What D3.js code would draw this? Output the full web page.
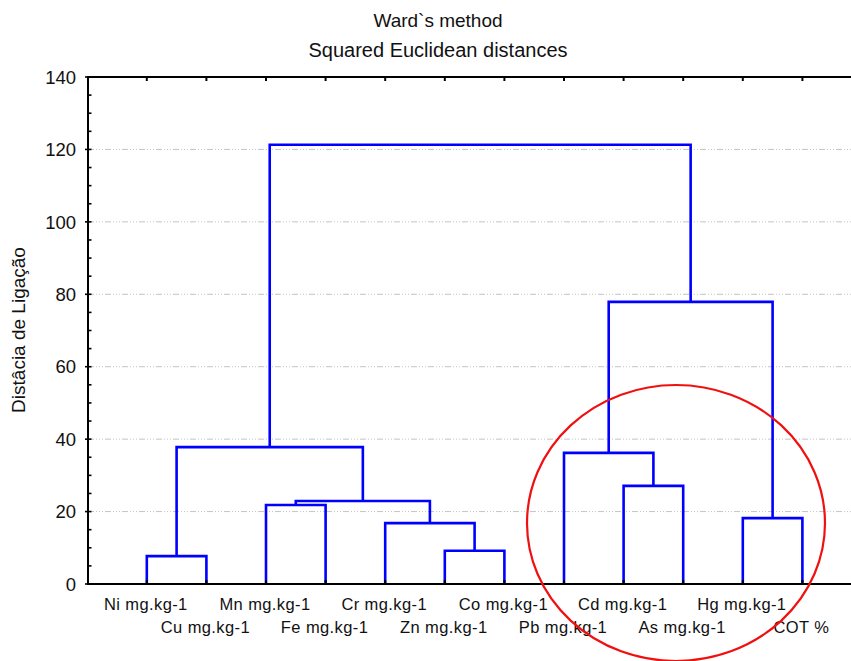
<!DOCTYPE html>
<html>
<head>
<meta charset="utf-8">
<script src="https://cdn.jsdelivr.net/npm/d3@7"></script>
<style>
  html, body { margin: 0; padding: 0; background: #fff; }
  svg { display: block; }
  text { font-family: "Liberation Sans", Arial, sans-serif; fill: #111; }
</style>
</head>
<body>
<svg id="chart" width="851" height="661"></svg>
<script>
// Variables in the order they are drawn along the horizontal axis
const leafLabels = [
  "Ni mg.kg-1", "Cu mg.kg-1", "Mn mg.kg-1", "Fe mg.kg-1",
  "Cr mg.kg-1", "Zn mg.kg-1", "Co mg.kg-1", "Pb mg.kg-1",
  "Cd mg.kg-1", "As mg.kg-1", "Hg mg.kg-1", "COT %"
];

// Agglomeration steps: [first member, second member, linkage distance].
// Indices below 12 are variables; index 12 + k is the cluster formed at step k.
const linkageSteps = [
  [0, 1, 7.7],
  [5, 6, 9.2],
  [4, 13, 16.8],
  [10, 11, 18.2],
  [2, 3, 21.8],
  [16, 14, 22.9],
  [8, 9, 27.1],
  [7, 18, 36.2],
  [12, 17, 37.8],
  [19, 15, 77.9],
  [20, 21, 121.3]
];

const yTicks = [0, 20, 40, 60, 80, 100, 120, 140];
const yMinorTicks = d3.range(0, 141, 5);
const titleLines = ["Ward`s method", "Squared Euclidean distances"];
const yAxisTitle = "Distâcia de Ligação";

const svg = d3.select("#chart");
const plotLeft = 88, plotTop = 77, plotBottom = 584, plotRight = 851;

const x = d3.scalePoint()
  .domain(leafLabels)
  .range([plotLeft - 0.8, plotLeft - 0.8 + 13 * 59.6])
  .padding(1);

const y = d3.scaleLinear().domain([0, 140]).range([plotBottom, plotTop]);

// Build the tree from the agglomeration steps
const nodes = leafLabels.map(name => ({ name, height: 0 }));
linkageSteps.forEach(([a, b, h]) => {
  nodes.push({ name: null, height: h, children: [nodes[a], nodes[b]] });
});
const root = d3.hierarchy(nodes[nodes.length - 1]);
root.eachAfter(n => {
  if (!n.children) n.px = x(n.data.name);
  else n.px = d3.mean(n.children, c => c.px);
  n.py = y(n.data.height);
});

// Horizontal grid lines
svg.append("g")
  .selectAll("line")
  .data(yTicks.filter(t => t > 0 && t < 140))
  .join("line")
  .attr("x1", plotLeft).attr("x2", plotRight)
  .attr("y1", d => y(d)).attr("y2", d => y(d))
  .attr("stroke", "#c4c4c4")
  .attr("stroke-width", 1)
  .attr("stroke-dasharray", "6,2,1,2,1,2,1,2");

// Dendrogram links (elbow connectors)
const links = root.descendants().filter(n => n.children);
svg.append("g")
  .selectAll("path")
  .data(links)
  .join("path")
  .attr("fill", "none")
  .attr("stroke", "#0000ff")
  .attr("stroke-width", 2.6)
  .attr("stroke-linejoin", "miter")
  .attr("d", n => {
    const [a, b] = n.children;
    return `M${a.px},${a.py}V${n.py}H${b.px}V${b.py}`;
  });

// Frame: left axis, top and bottom lines
const frame = svg.append("g").attr("stroke", "#000");
frame.append("line").attr("x1", plotLeft).attr("x2", plotLeft).attr("y1", plotTop - 1).attr("y2", plotBottom + 1).attr("stroke-width", 2);
frame.append("line").attr("x1", plotLeft).attr("x2", plotRight).attr("y1", plotTop).attr("y2", plotTop).attr("stroke-width", 2);
frame.append("line").attr("x1", plotLeft).attr("x2", plotRight).attr("y1", plotBottom).attr("y2", plotBottom).attr("stroke-width", 2);

// Minor ticks on the left axis, pointing inward
frame.selectAll(".minor")
  .data(yMinorTicks)
  .join("line")
  .attr("class", "minor")
  .attr("x1", plotLeft).attr("x2", plotLeft + 3.5)
  .attr("y1", d => y(d)).attr("y2", d => y(d))
  .attr("stroke-width", 1.6);

// Major ticks on the left axis, pointing outward
frame.selectAll(".major")
  .data(yTicks)
  .join("line")
  .attr("class", "major")
  .attr("x1", plotLeft - 3).attr("x2", plotLeft)
  .attr("y1", d => y(d)).attr("y2", d => y(d))
  .attr("stroke-width", 1.6);

// Leaf ticks on the top and bottom lines
frame.selectAll(".ttick")
  .data(leafLabels)
  .join("line")
  .attr("class", "ttick")
  .attr("x1", d => x(d)).attr("x2", d => x(d))
  .attr("y1", plotTop).attr("y2", plotTop + 4)
  .attr("stroke-width", 2);
frame.selectAll(".btick")
  .data(leafLabels)
  .join("line")
  .attr("class", "btick")
  .attr("x1", d => x(d)).attr("x2", d => x(d))
  .attr("y1", plotBottom - 4).attr("y2", plotBottom)
  .attr("stroke-width", 2);

// Y tick labels
svg.append("g")
  .selectAll("text")
  .data(yTicks)
  .join("text")
  .attr("x", 76)
  .attr("y", d => y(d))
  .attr("dy", "0.36em")
  .attr("text-anchor", "end")
  .attr("font-size", 18.5)
  .text(d => d);

// Variable labels, alternating between two rows
svg.append("g")
  .selectAll("text")
  .data(leafLabels)
  .join("text")
  .attr("x", d => x(d) - 1)
  .attr("y", (d, i) => i % 2 === 0 ? 610 : 633)
  .attr("text-anchor", "middle")
  .attr("font-size", 16.5)
  .attr("letter-spacing", 0.4)
  .text(d => d);

// Titles
svg.append("g")
  .selectAll("text")
  .data(titleLines)
  .join("text")
  .attr("x", 438)
  .attr("y", (d, i) => i === 0 ? 27 : 57)
  .attr("text-anchor", "middle")
  .attr("font-size", (d, i) => i === 0 ? 19 : 20)
  .text(d => d);

// Y axis title
svg.append("text")
  .attr("transform", "translate(25,330) rotate(-90)")
  .attr("text-anchor", "middle")
  .attr("font-size", 19)
  .text(yAxisTitle);

// Highlight around the Pb/Cd/As and Hg/COT clusters
svg.append("ellipse")
  .attr("cx", 676).attr("cy", 523)
  .attr("rx", 149).attr("ry", 138)
  .attr("fill", "none")
  .attr("stroke", "#f01010")
  .attr("stroke-width", 2.2);
</script>
</body>
</html>
